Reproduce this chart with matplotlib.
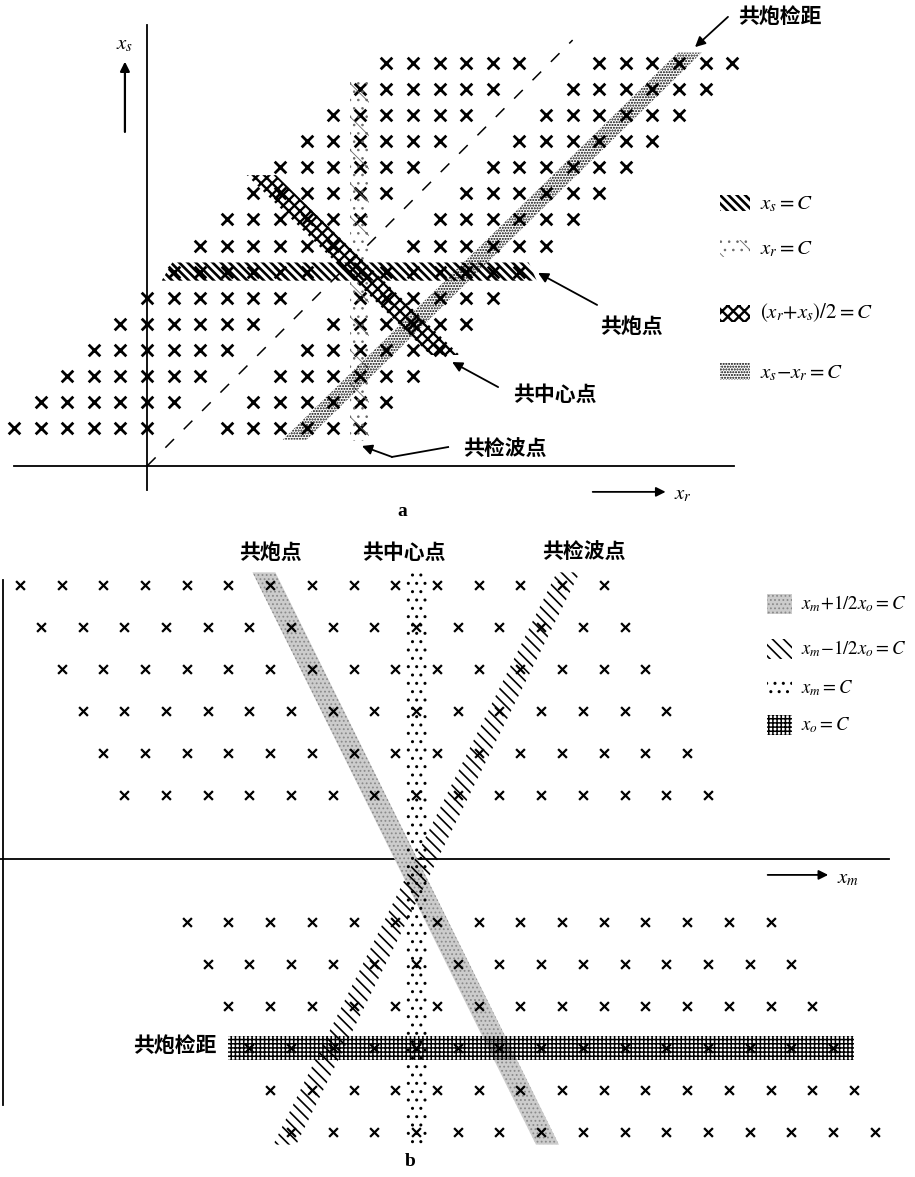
import numpy as np
import matplotlib
matplotlib.use('Agg')
import matplotlib.pyplot as plt
from matplotlib.patches import Polygon, Rectangle

plt.rcParams['font.family'] = ['Noto Sans CJK SC', 'DejaVu Sans']
plt.rcParams['mathtext.fontset'] = 'stix'

# ---- panel a data: receiver index r (horizontal), shot index s (vertical) ----
a_rows = [1, 2, 3, 4, 5, 6, 7, 8, 9, 10, 11, 12, 13, 14, 15]
a_left_first = [-5, -4, -3, -2, -1, 0, 1, 2, 3, 4, 5, 6, 7, 8, 9]
a_right_first = [3, 4, 5, 6, 7, 8, 9, 10, 11, 12, 13, 14, 15, 16, 17]
a_group_len = [6, 6, 6, 6, 6, 6, 6, 6, 6, 6, 6, 6, 6, 6, 6]

# constant-C values for the gathers in panel a
a_shot_C = 7        # x_s = C
a_recv_C = 8        # x_r = C
a_mid_sum_C = 15    # x_r + x_s = 2C
a_offset_C = 5      # x_r - x_s = C

# ---- panel b data: midpoint u (half spacing units), offset o ----
b_offsets = [6.5, 5.5, 4.5, 3.5, 2.5, 1.5, -1.5, -2.5, -3.5, -4.5, -5.5, -6.5]
b_first_mid = [0, 1, 2, 3, 4, 5, 8, 9, 10, 11, 12, 13]
b_row_len = [15, 15, 15, 15, 15, 15, 15, 15, 15, 15, 15, 15]

b_plus_C = 18.5     # x_m + 1/2 x_o = C
b_minus_C = 19.5    # x_m - 1/2 x_o = C
b_mid_C = 19        # x_m = C
b_off_C = -4.5      # x_o = C

H = 1177
fig = plt.figure(figsize=(9.15, 11.77), dpi=100)
axa = fig.add_axes([0, (H - 540) / H, 1, 540 / H])
axb = fig.add_axes([0, 0, 1, 637 / H])
axa.set_xlim(-5.526, 28.87)
axa.set_ylim(-3.296, 17.417)
axb.set_xlim(-0.959, 42.93)
axb.set_ylim(-7.569, 7.569)
for ax in (axa, axb):
    ax.axis('off')


def band(ax, pts, hatch, ec='k', fc='none', hlw=1.0, z=3, alpha=1.0):
    with plt.rc_context({'hatch.linewidth': hlw}):
        p = Polygon(pts, closed=True, facecolor=fc, edgecolor=ec, hatch=hatch,
                    linewidth=0, zorder=z, alpha=alpha)
    if hasattr(p, 'set_hatch_linewidth'):
        p.set_hatch_linewidth(hlw)
    ax.add_patch(p)
    return p


def swatch(ax, x, y, w, h, hatch, ec='k', fc='none', hlw=1.0):
    with plt.rc_context({'hatch.linewidth': hlw}):
        p = Rectangle((x, y - h / 2), w, h, facecolor=fc, edgecolor=ec,
                      hatch=hatch, linewidth=0, zorder=3)
    if hasattr(p, 'set_hatch_linewidth'):
        p.set_hatch_linewidth(hlw)
    ax.add_patch(p)


# hatch styles (pattern, colour, linewidth)
st_shot = ('\\\\\\\\', 'k', 1.9)
st_recv = ('\\..', '#666666', 0.6)
st_mid = ('xxx', 'k', 1.7)
st_off = ('......', 'k', 1.0)

# ================= panel a =================
rr, ss = [], []
for s, l0, r0, n in zip(a_rows, a_left_first, a_right_first, a_group_len):
    for k in range(n):
        rr += [l0 + k, r0 + k]
        ss += [s, s]
axa.scatter(rr, ss, marker='x', s=70, linewidths=2.0, color='k', zorder=2)

# axes
axa.plot([0, 0], [-1.38, 16.46], color='k', lw=1.3, zorder=1)
axa.plot([-5.0, 22.05], [-0.46, -0.46], color='k', lw=1.3, zorder=1)
axa.plot([0, 16.0], [-0.46, 15.88], color='k', lw=1.1, ls=(0, (8, 9)), zorder=1)

# gathers
hs = 0.35
band(axa, [(0.55, a_shot_C - hs), (14.65, a_shot_C - hs), (14.35, a_shot_C + hs),
           (0.95, a_shot_C + hs)], st_shot[0], ec=st_shot[1], hlw=st_shot[2], z=4)
hw = 0.36
band(axa, [(a_recv_C - hw, 0.5), (a_recv_C + hw, 0.5), (a_recv_C + hw, 14.4),
           (a_recv_C - hw, 14.4)], st_recv[0], ec=st_recv[1], hlw=st_recv[2], z=3)
so0, so1 = 0.55, 15.4
hm = 0.45
band(axa, [(so0 + a_offset_C - hm, so0), (so0 + a_offset_C + hm, so0),
           (so1 + a_offset_C + hm, so1), (so1 + a_offset_C - hm, so1)],
     st_off[0], ec=st_off[1], hlw=st_off[2], z=3)
hc = 0.55
sm0, sm1 = 3.8, 10.7
band(axa, [(a_mid_sum_C - sm1 - hc, sm1), (a_mid_sum_C - sm1 + hc, sm1),
           (a_mid_sum_C - sm0 + hc, sm0), (a_mid_sum_C - sm0 - hc, sm0)],
     st_mid[0], ec=st_mid[1], hlw=st_mid[2], z=5)

# axis arrows and labels
axa.annotate('', xy=(-0.83, 15.16), xytext=(-0.83, 12.25),
             arrowprops=dict(arrowstyle='-|>', color='k', lw=1.6, mutation_scale=14))
axa.text(-0.83, 15.75, r'$x_s$', fontsize=15, ha='center', va='center')
axa.annotate('', xy=(19.6, -1.45), xytext=(16.65, -1.45),
             arrowprops=dict(arrowstyle='-|>', color='k', lw=1.3, mutation_scale=14))
axa.text(19.8, -1.5, r'$x_r$', fontsize=15, ha='left', va='center')
axa.text(9.59, -2.22, 'a', fontsize=14, fontweight='bold', family='Liberation Serif',
         ha='center', va='center')

# annotations
arw = dict(arrowstyle='-|>', color='k', lw=1.3, mutation_scale=15, shrinkA=0, shrinkB=0)
axa.text(22.2, 16.77, '共炮检距', fontsize=15, fontweight='bold', ha='left', va='center')
axa.annotate('', xy=(20.6, 15.61), xytext=(21.84, 16.77), arrowprops=arw)
axa.text(18.2, 4.88, '共炮点', fontsize=15, fontweight='bold', ha='center', va='center')
axa.annotate('', xy=(14.7, 6.95), xytext=(16.92, 5.72), arrowprops=arw)
axa.text(15.34, 2.27, '共中心点', fontsize=15, fontweight='bold', ha='center', va='center')
axa.annotate('', xy=(11.47, 3.53), xytext=(13.2, 2.57), arrowprops=arw)
axa.text(13.46, 0.16, '共检波点', fontsize=15, fontweight='bold', ha='center', va='center')
axa.plot([11.32, 9.21], [0.27, -0.11], color='k', lw=1.3)
axa.annotate('', xy=(8.08, 0.31), xytext=(9.21, -0.11), arrowprops=arw)

# legend a
leg_a_s = [9.63, 7.90, 5.41, 3.15]
leg_a_txt = [r'$x_s{=}C$', r'$x_r{=}C$', r'$(x_r{+}x_s)/2{=}C$', r'$x_s{-}x_r{=}C$']
for y, t, (h, c, lw) in zip(leg_a_s, leg_a_txt, [st_shot, st_recv, st_mid, st_off]):
    swatch(axa, 21.54, y, 1.13, 0.65, h, ec=c, hlw=lw)
    axa.text(23.05, y, t, fontsize=15, ha='left', va='center')

# ================= panel b =================
uu, oo = [], []
for o, u0, n in zip(b_offsets, b_first_mid, b_row_len):
    for k in range(n):
        uu.append(u0 + 2 * k)
        oo.append(o)
axb.scatter(uu, oo, marker='x', s=40, linewidths=1.6, color='k', zorder=2)

axb.plot([-0.815, -0.815], [-5.86, 6.62], color='k', lw=1.3, zorder=1)
axb.plot([-0.96, 41.7], [0.0, 0.0], color='k', lw=1.3, zorder=1)

sb_plus = ('....', '#8a8a8a', '#cccccc', 0.8)
sb_minus = ('\\\\\\', 'k', 'none', 1.2)
sb_mid = ('..', 'k', 'none', 1.0)
sb_off = ('++++', 'k', 'none', 1.1)

ot, ob = 6.8, -6.8
hb = 0.55
band(axb, [(b_plus_C - ot - hb, ot), (b_plus_C - ot + hb, ot),
           (b_plus_C - ob + hb, ob), (b_plus_C - ob - hb, ob)],
     sb_plus[0], ec=sb_plus[1], fc=sb_plus[2], hlw=sb_plus[3], z=1)
band(axb, [(b_minus_C + ot - hb, ot), (b_minus_C + ot + hb, ot),
           (b_minus_C + ob + hb, ob), (b_minus_C + ob - hb, ob)],
     sb_minus[0], ec=sb_minus[1], hlw=sb_minus[3], z=3)
band(axb, [(b_mid_C - 0.5, ot), (b_mid_C + 0.5, ot),
           (b_mid_C + 0.5, ob), (b_mid_C - 0.5, ob)],
     sb_mid[0], ec=sb_mid[1], hlw=sb_mid[3], z=3)
band(axb, [(10.0, b_off_C - 0.29), (40.0, b_off_C - 0.29),
           (40.0, b_off_C + 0.29), (10.0, b_off_C + 0.29)],
     sb_off[0], ec=sb_off[1], hlw=sb_off[3], z=4)

axb.text(11.99, 7.28, '共炮点', fontsize=15, fontweight='bold', ha='center', va='center')
axb.text(18.4, 7.28, '共中心点', fontsize=15, fontweight='bold', ha='center', va='center')
axb.text(27.05, 7.28, '共检波点', fontsize=15, fontweight='bold', ha='center', va='center')
axb.text(9.45, -4.43, '共炮检距', fontsize=15, fontweight='bold', ha='right', va='center')

axb.annotate('', xy=(38.9, -0.39), xytext=(35.73, -0.39),
             arrowprops=dict(arrowstyle='-|>', color='k', lw=1.3, mutation_scale=14))
axb.text(39.2, -0.45, r'$x_m$', fontsize=15, ha='left', va='center')
axb.text(18.7, -7.2, 'b', fontsize=14, fontweight='bold', family='Liberation Serif',
         ha='center', va='center')

# legend b
leg_b_o = [6.05, 4.98, 4.05, 3.17]
leg_b_txt = [r'$x_m{+}1/2x_o{=}C$', r'$x_m{-}1/2x_o{=}C$', r'$x_m{=}C$', r'$x_o{=}C$']
for y, t, (h, c, fc, lw) in zip(leg_b_o, leg_b_txt, [sb_plus, sb_minus, sb_mid, sb_off]):
    swatch(axb, 35.83, y, 1.2, 0.48, h, ec=c, fc=fc, hlw=lw)
    axb.text(37.45, y, t, fontsize=13.5, ha='left', va='center')

fig.savefig('out.png', dpi=100)
